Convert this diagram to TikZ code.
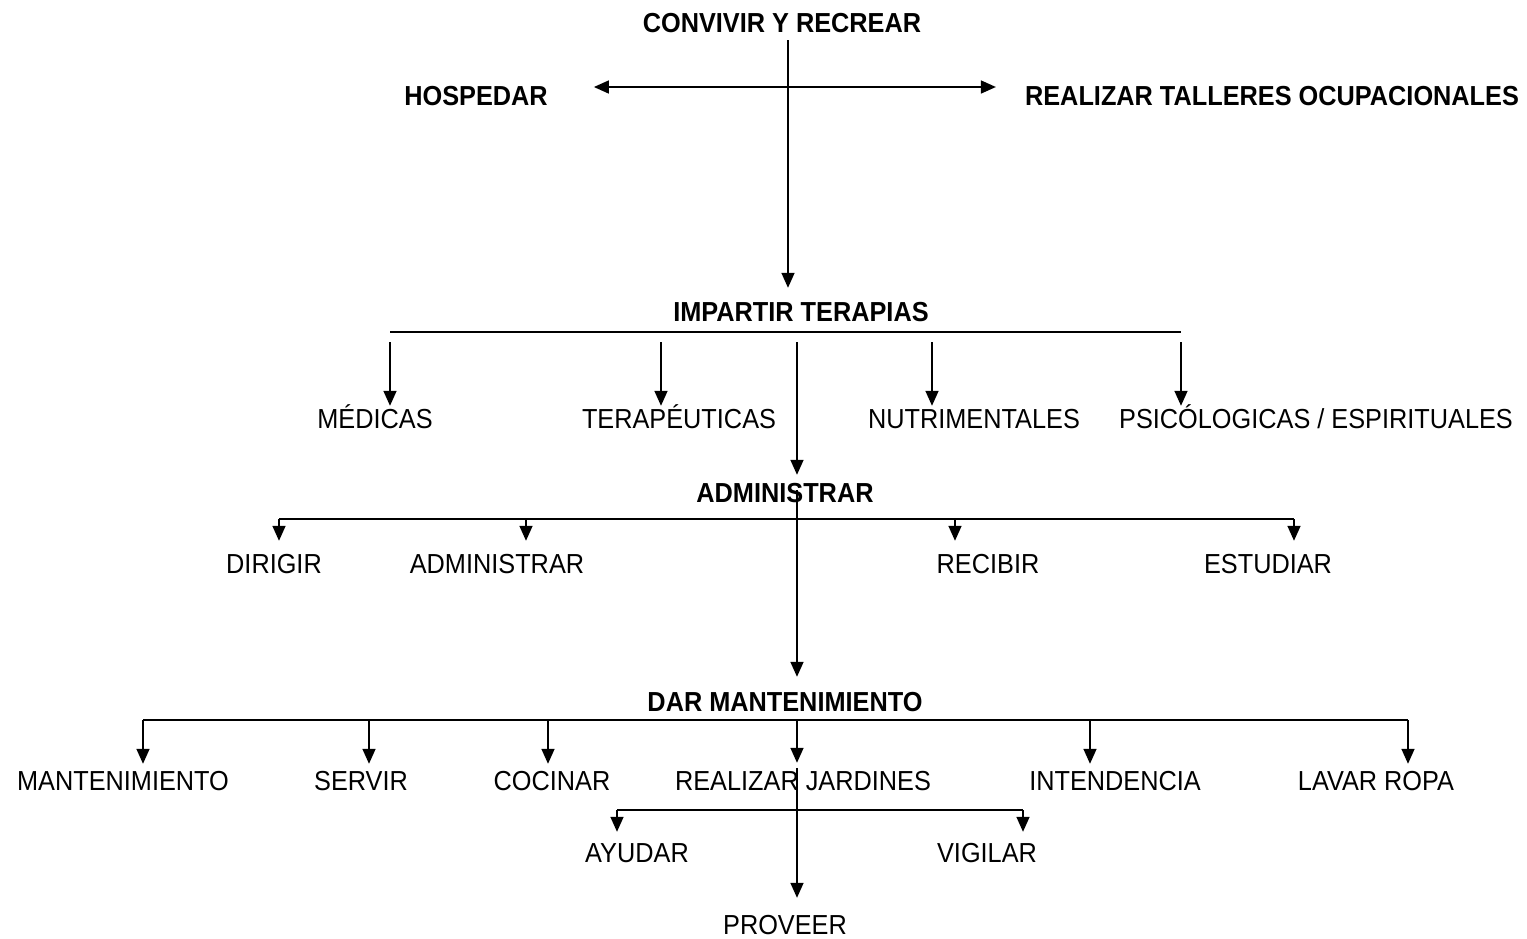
\documentclass[tikz,border=0pt]{standalone}
\usepackage{fontspec}
\setmainfont{Liberation Sans}[FakeStretch=0.92]
\usetikzlibrary{arrows.meta}

\begin{document}
\begin{tikzpicture}[x=1pt,y=-1pt]
	\tikzset{every node/.style={inner sep=0pt,anchor=base,text height=20pt,text depth=0pt,font=\fontsize{27.5}{30}\selectfont}}
	\tikzset{titulo/.style={font=\fontsize{27.5}{30}\selectfont\bfseries}}
	\tikzset{linea/.style={line width=1.6pt}}
	\tikzset{flecha/.style={linea,-{Triangle[width=13pt,length=15pt]}}}
	\tikzset{doble/.style={linea,{Triangle[width=13pt,length=15pt]}-{Triangle[width=13pt,length=15pt]}}}
	\useasboundingbox (0,0) rectangle (1527,938);
	% primer nivel
	\node[titulo] (convivir) at (782,32) {CONVIVIR Y RECREAR};
	\node[titulo] (hospedar) at (476,105) {HOSPEDAR};
	\node[titulo] (talleres) at (1272,105) {REALIZAR TALLERES OCUPACIONALES};
	\coordinate (t0) at (788,87);
	\draw[doble,shorten <=46pt,shorten >=29pt] (hospedar.east |- t0) -- (talleres.west |- t0);
	% terapias
	\node[titulo] (impartir) at (801,321) {IMPARTIR TERAPIAS};
	\draw[flecha,shorten <=8pt,shorten >=13pt] (convivir.south -| t0) -- (impartir.north -| t0);
	\node (medicas) at (375,428) {MÉDICAS};
	\node (terapeuticas) at (679,428) {TERAPÉUTICAS};
	\node (nutrimentales) at (974,428) {NUTRIMENTALES};
	\node (psicologicas) at (1316,428) {PSICÓLOGICAS / ESPIRITUALES};
	\coordinate (b1) at (390,332);
	\coordinate (b2) at (661,332);
	\coordinate (b3) at (797,332);
	\coordinate (b4) at (932,332);
	\coordinate (b5) at (1181,332);
	\draw[linea] (b1) -- (b5);
	\draw[flecha,shorten <=10pt,shorten >=2pt] (b1) -- (b1 |- medicas.north);
	\draw[flecha,shorten <=10pt,shorten >=2pt] (b2) -- (b2 |- terapeuticas.north);
	\draw[flecha,shorten <=10pt,shorten >=2pt] (b4) -- (b4 |- nutrimentales.north);
	\draw[flecha,shorten <=10pt,shorten >=2pt] (b5) -- (b5 |- psicologicas.north);
	% administrar
	\node[titulo] (administrar) at (785,502) {ADMINISTRAR};
	\draw[flecha,shorten <=10pt,shorten >=7pt] (b3) -- (b3 |- administrar.north);
	\node (dirigir) at (274,573) {DIRIGIR};
	\node (admin) at (497,573) {ADMINISTRAR};
	\node (recibir) at (988,573) {RECIBIR};
	\node (estudiar) at (1268,573) {ESTUDIAR};
	\coordinate (c1) at (279,519);
	\coordinate (c2) at (526,519);
	\coordinate (c3) at (955,519);
	\coordinate (c4) at (1294,519);
	\draw[linea] (c1) -- (c4);
	\draw[flecha,shorten >=12pt] (c1) -- (c1 |- dirigir.north);
	\draw[flecha,shorten >=12pt] (c2) -- (c2 |- admin.north);
	\draw[flecha,shorten >=12pt] (c3) -- (c3 |- recibir.north);
	\draw[flecha,shorten >=12pt] (c4) -- (c4 |- estudiar.north);
	% mantenimiento
	\node[titulo] (mantener) at (785,711) {DAR MANTENIMIENTO};
	\draw[flecha,shorten <=8pt,shorten >=14pt] (administrar.north -| b3) -- (mantener.north -| b3);
	\node (mantenimiento) at (123,790) {MANTENIMIENTO};
	\node (servir) at (361,790) {SERVIR};
	\node (cocinar) at (552,790) {COCINAR};
	\node (jardines) at (803,790) {REALIZAR JARDINES};
	\node (intendencia) at (1115,790) {INTENDENCIA};
	\node (lavar) at (1376,790) {LAVAR ROPA};
	\coordinate (d1) at (143,720);
	\coordinate (d2) at (369,720);
	\coordinate (d3) at (548,720);
	\coordinate (d4) at (797,720);
	\coordinate (d5) at (1090,720);
	\coordinate (d6) at (1408,720);
	\draw[linea] (d1) -- (d6);
	\draw[flecha,shorten >=6pt] (d1) -- (d1 |- mantenimiento.north);
	\draw[flecha,shorten >=6pt] (d2) -- (d2 |- servir.north);
	\draw[flecha,shorten >=6pt] (d3) -- (d3 |- cocinar.north);
	\draw[flecha,shorten >=7pt] (d4) -- (d4 |- jardines.north);
	\draw[flecha,shorten >=6pt] (d5) -- (d5 |- intendencia.north);
	\draw[flecha,shorten >=6pt] (d6) -- (d6 |- lavar.north);
	% ultimo nivel
	\node (ayudar) at (637,862) {AYUDAR};
	\node (vigilar) at (987,862) {VIGILAR};
	\node (proveer) at (785,934) {PROVEER};
	\coordinate (e1) at (617,810);
	\coordinate (e2) at (1023,810);
	\draw[linea] (e1) -- (e2);
	\draw[flecha,shorten >=10pt] (e1) -- (e1 |- ayudar.north);
	\draw[flecha,shorten >=10pt] (e2) -- (e2 |- vigilar.north);
	\draw[flecha,shorten <=-2pt,shorten >=16pt] (jardines.north -| d4) -- (proveer.north -| d4);
\end{tikzpicture}
\end{document}
